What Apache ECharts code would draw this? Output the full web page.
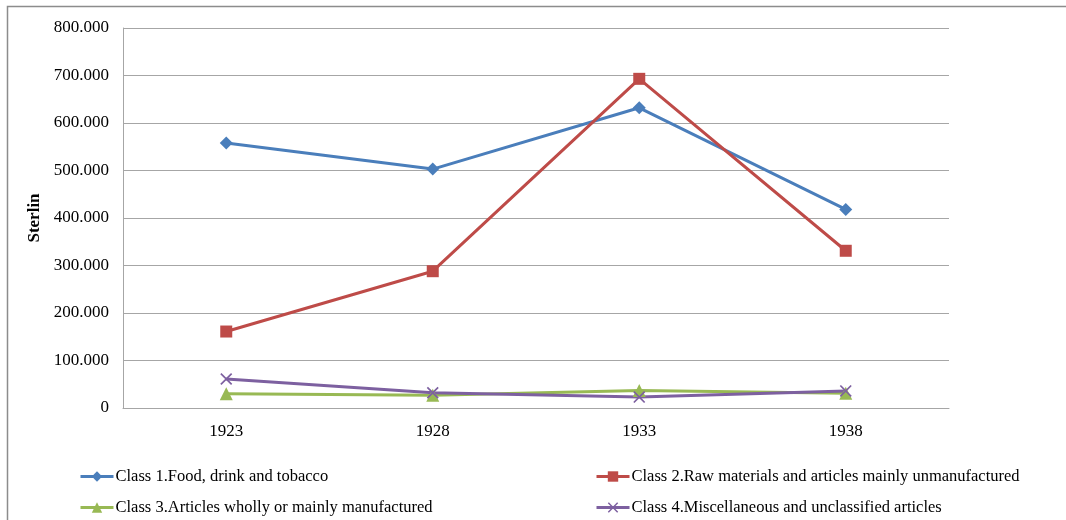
<!DOCTYPE html>
<html>
<head>
<meta charset="utf-8">
<script src="https://cdn.jsdelivr.net/npm/echarts@6/dist/echarts.min.js"></script>
<style>
  html, body { margin: 0; padding: 0; background: #fff; }
  #chart { width: 1066px; height: 520px; }
</style>
</head>
<body>
<div id="chart"></div>
<script>
// Years on the category axis
const years = ['1923', '1928', '1933', '1938'];

// Values in thousands of sterling
const class1 = [558, 503, 632, 418];
const class2 = [161, 288, 693, 331];
const class3 = [30, 27, 37, 31];
const class4 = [61, 32, 23, 36];

const names = [
  'Class 1.Food, drink and tobacco',
  'Class 2.Raw materials and articles mainly unmanufactured',
  'Class 3.Articles wholly or mainly manufactured',
  'Class 4.Miscellaneous and unclassified articles'
];

const yTicks = { min: 0, max: 800, interval: 100 };

const serif = '"Liberation Serif", "Times New Roman", serif';
const crossPath = 'path://M0,1L1,0L5,4L9,0L10,1L6,5L10,9L9,10L5,6L1,10L0,9L4,5Z';

function lineSeries(name, data, color, symbol, size) {
  return {
    name: name,
    type: 'line',
    data: data,
    symbol: symbol,
    symbolSize: size,
    showAllSymbol: true,
    lineStyle: { color: color, width: 3 },
    itemStyle: { color: color },
    emphasis: { disabled: true }
  };
}

const legendCommon = {
  orient: 'vertical',
  padding: 0,
  height: 70,
  itemWidth: 33, itemHeight: 13, itemGap: 14,
  lineStyle: { width: 3 },
  textStyle: { color: '#000', fontSize: 16.5, fontFamily: serif, padding: [0, 0, 0, -3] },
  selectedMode: false
};

const chart = echarts.init(document.getElementById('chart'), null, { renderer: 'canvas' });

chart.setOption({
  animation: false,
  backgroundColor: '#ffffff',
  textStyle: { fontFamily: serif },
  graphic: [{
    type: 'rect',
    shape: { x: 7.5, y: 6.5, width: 1100, height: 600 },
    style: { fill: 'none', stroke: '#8c8c8c', lineWidth: 1.5 },
    silent: true
  }],
  grid: { left: 123, top: 28, right: 117, bottom: 112, containLabel: false },
  xAxis: {
    type: 'category',
    data: years,
    boundaryGap: true,
    axisLine: { lineStyle: { color: '#a6a6a6', width: 1 } },
    axisTick: { show: false },
    axisLabel: { color: '#000', fontSize: 17, fontFamily: serif, margin: 15 }
  },
  yAxis: {
    type: 'value',
    min: yTicks.min,
    max: yTicks.max,
    interval: yTicks.interval,
    name: 'Sterlin',
    nameLocation: 'middle',
    nameGap: 69,
    nameRotate: 90,
    nameTextStyle: { color: '#000', fontSize: 17, fontWeight: 'bold', fontFamily: serif },
    axisLine: { show: true, lineStyle: { color: '#a6a6a6', width: 1 } },
    axisTick: { show: false },
    splitLine: { lineStyle: { color: '#a6a6a6', width: 1 } },
    axisLabel: {
      color: '#000', fontSize: 17, fontFamily: serif, margin: 14,
      formatter: v => v === 0 ? '0' : v.toFixed(3)
    }
  },
  legend: [
    Object.assign({}, legendCommon, { left: 79, top: 468, data: [names[0], names[2]] }),
    Object.assign({}, legendCommon, { left: 595, top: 468, data: [names[1], names[3]] })
  ],
  series: [
    lineSeries(names[0], class1, '#4a7ebb', 'diamond', 13),
    lineSeries(names[1], class2, '#be4b48', 'rect', 12),
    lineSeries(names[2], class3, '#98b954', 'triangle', 13),
    lineSeries(names[3], class4, '#7d60a0', crossPath, 12)
  ]
});
</script>
</body>
</html>
